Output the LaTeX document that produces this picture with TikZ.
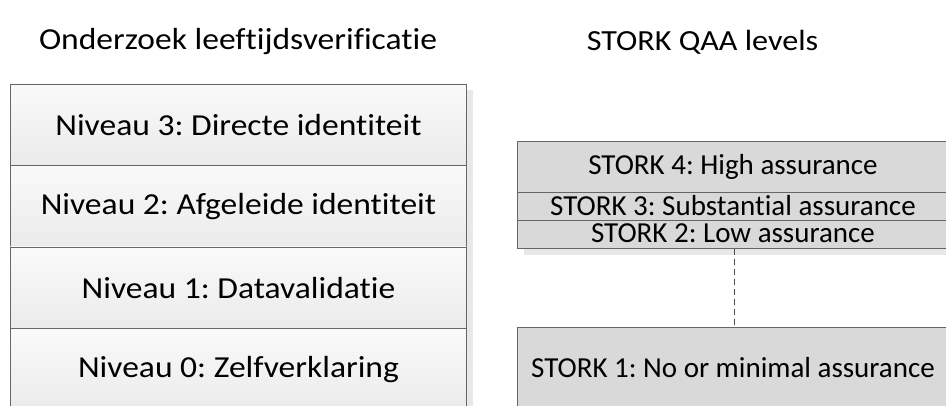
\documentclass[tikz,border=0pt]{standalone}
\usepackage{fontspec}
\setmainfont{Carlito}[Ligatures=NoCommon]
\newfontfamily\widefont{Carlito}[Ligatures=NoCommon, FakeStretch=1.1]
\begin{document}
\begin{tikzpicture}[x=1pt,y=-1pt,
  lvl/.style={draw=black!60, line width=0.9pt, anchor=north west, inner sep=0pt,
    top color=black!2, bottom color=black!8, font=\widefont\fontsize{30.5}{36}\selectfont},
  qaa/.style={draw=black!60, line width=0.9pt, anchor=north west, inner sep=0pt,
    fill=black!15},
  qtxt/.style={inner sep=0pt, font=\fontsize{29}{32}\selectfont},
  shade/.style={fill=black!9, draw=none},
  ttl/.style={font=\widefont\fontsize{30.5}{34}\selectfont}]
\useasboundingbox (0,0) rectangle (946,405);
\clip (0,0) rectangle (946,405);
\frenchspacing
% shadows
\fill[shade] (17,90) rectangle (473,420);
\fill[shade] (524,148) rectangle (960,255);
% titles
\node[ttl] (t1) at (238,42) {Onderzoek leeftijdsverificatie};
\node[ttl, font=\widefont\fontsize{29.2}{34}\selectfont] (t2) at (702.5,42) {STORK QAA levels};
% left column
\node[lvl, minimum width=456, minimum height=81.5] (n3) at (10,83.5) {Niveau 3: Directe identiteit};
\node[lvl, minimum width=456, minimum height=81.5] (n2) at (10,165) {Niveau 2: Afgeleide identiteit};
\node[lvl, minimum width=456, minimum height=81.5] (n1) at (10,246.5) {Niveau 1: Datavalidatie};
\node[lvl, minimum width=456, minimum height=81.5] (n0) at (10,328) {Niveau 0: Zelfverklaring};
% right column
\node[qaa, minimum width=450, minimum height=51] (s4) at (517,141) {};
\node[qtxt] (l4) at (733,167) {STORK 4: High assurance};
\node[qaa, minimum width=450, minimum height=28] (s3) at (517,192) {};
\node[qtxt] (l3) at (733,206) {STORK 3: Substantial assurance};
\node[qaa, minimum width=450, minimum height=28] (s2) at (517,220) {};
\node[qtxt] (l2) at (733,233) {STORK 2: Low assurance};
\node[qaa, minimum width=450, minimum height=90] (s1) at (517,327) {};
\node[qtxt] (l1) at (733,368) {STORK 1: No or minimal assurance};
\coordinate (da) at (734,0);
\draw[black!70, line width=0.9pt, dash pattern=on 6pt off 4pt] (s2.south -| da) -- (s1.north -| da);
\end{tikzpicture}
\end{document}
